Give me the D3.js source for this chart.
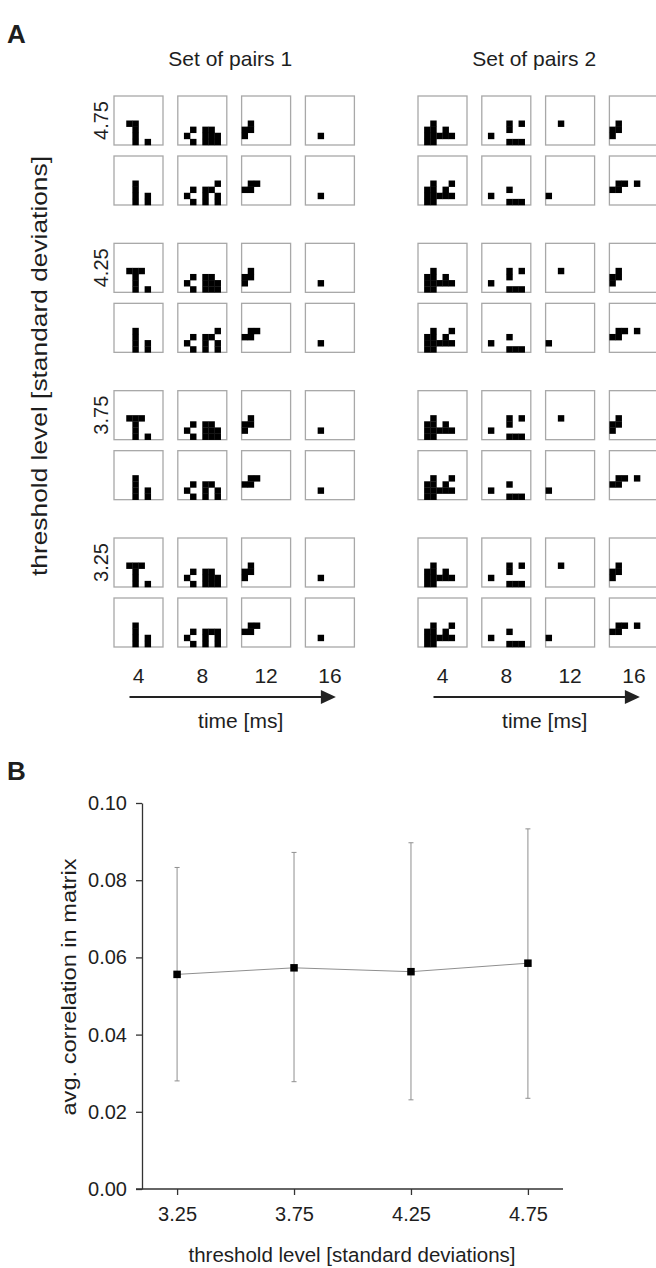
<!DOCTYPE html>
<html>
<head>
<meta charset="utf-8">
<script src="https://cdn.jsdelivr.net/npm/d3@7"></script>
<style>
body { margin: 0; background: #fff; }
text { font-family: "Liberation Sans", Arial, sans-serif; fill: #1e1e1e; }
</style>
</head>
<body>
<div class="canvas"></div>
<script>
// ---- panel A data ----
const thresholds = ["4.75", "4.25", "3.75", "3.25"];
const lags = [4, 8, 12, 16];
const setNames = ["Set of pairs 1", "Set of pairs 2"];

// active cells of each 8x8 matrix, written "rc" (row, col), one string per lag
const set1Upper = [
  ["42 43 53 63 73 75", "61 52 72 54 55 64 65 66 74 75 76", "41 51 50 60", "62"],
  ["42 43 44 53 63 73 75", "61 52 72 54 55 64 65 66 74 75 76", "41 51 50 60", "62"],
  ["42 43 44 53 63 73 75", "61 52 72 54 55 64 65 66 74 75 76", "41 51 50 60", "62"],
  ["42 43 44 53 63 73 75", "61 52 72 54 55 64 65 66 74 75 76", "41 51 50 60", "62"]
];
const set1Lower = [
  ["43 53 63 73 65 75", "61 52 72 46 54 55 64 66 74 76", "41 42 50 51", "62"],
  ["43 53 63 73 65 75", "61 52 72 46 54 55 64 66 74 76", "41 42 50 51", "62"],
  ["43 53 63 73 65 75", "61 52 72 54 55 64 66 74 76", "41 42 50 51", "62"],
  ["43 53 63 73 65 75", "61 52 72 54 55 56 64 66 74 76", "41 42 50 51", "62"]
];
const set2Upper = [
  ["42 51 52 54 61 62 63 64 65 71 72", "61 44 54 46 74 75 76", "42", "41 51 50 60"],
  ["42 51 52 54 61 62 63 64 65 71 72", "61 44 54 46 74 75 76", "42", "41 51 50 60"],
  ["42 51 52 54 61 62 63 64 65 71 72", "61 44 54 46 74 75 76", "42", "41 51 50 60"],
  ["42 51 52 54 61 62 63 64 65 71 72", "61 44 54 46 74 75 76", "42", "41 51 50 60"]
];
const set2Lower = [
  ["42 45 51 52 54 61 62 63 64 65 71 72", "61 54 74 75 76", "60", "41 42 50 51 44"],
  ["42 45 51 52 54 61 62 63 64 65 71 72", "61 54 74 75 76", "60", "41 42 50 51 44"],
  ["42 45 51 52 54 61 62 63 64 65 71 72", "61 54 74 75 76", "60", "41 42 50 51 44"],
  ["42 45 51 52 54 61 62 63 64 65 71 72", "61 54 74 75 76", "60", "41 42 50 51 44"]
];

// ---- panel B data ----
const levels = [3.25, 3.75, 4.25, 4.75];
const meanCorr = [0.0556, 0.0573, 0.0563, 0.0585];
const upperCorr = [0.0833, 0.0872, 0.0897, 0.0933];
const lowerCorr = [0.0280, 0.0278, 0.0231, 0.0235];
const corrTicks = [0, 0.02, 0.04, 0.06, 0.08, 0.10];

const W = 656, H = 1268;
const svg = d3.select('.canvas').append('svg')
  .attr('width', W).attr('height', H);
svg.append('rect').attr('width', W).attr('height', H).attr('fill', '#fff');

// ================= panel A =================
const boxSize = 49;
const setLeft = [114, 418];
const lagX = d3.scalePoint().domain(lags).range([0, 191.4]);
const groupY = d3.scalePoint().domain(thresholds).range([96, 538]);
const rowGap = 60;
const cell = d3.scaleBand().domain(d3.range(8)).range([0, boxSize]);

const sets = [[set1Upper, set1Lower], [set2Upper, set2Lower]];

svg.append('text').text('A')
  .attr('x', 7).attr('y', 43)
  .attr('font-size', 26).attr('font-weight', 'bold');

sets.forEach((rows, s) => {
  const gSet = svg.append('g').attr('transform', `translate(${setLeft[s]},0)`);

  gSet.append('text').text(setNames[s])
    .attr('x', lagX(16) / 2 + boxSize / 2 - 4).attr('y', 66)
    .attr('text-anchor', 'middle').attr('font-size', 21);

  thresholds.forEach((th, t) => {
    rows.forEach((pattern, r) => {
      lags.forEach((lag, k) => {
        const g = gSet.append('g')
          .attr('transform', `translate(${lagX(lag)},${groupY(th) + r * rowGap})`);
        g.append('rect')
          .attr('width', boxSize).attr('height', boxSize)
          .attr('fill', '#fff').attr('stroke', '#a8a8a8').attr('stroke-width', 1.3);
        const cells = pattern[t][k].split(' ').map(c => [+c[0], +c[1]]);
        g.selectAll('rect.px').data(cells).enter().append('rect')
          .attr('class', 'px')
          .attr('x', d => cell(d[1])).attr('y', d => cell(d[0]))
          .attr('width', cell.bandwidth() + 0.3).attr('height', cell.bandwidth() + 0.3)
          .attr('fill', '#000');
      });
    });
  });

  // lag tick labels
  gSet.selectAll('text.lag').data(lags).enter().append('text')
    .attr('class', 'lag')
    .attr('x', d => lagX(d) + boxSize / 2)
    .attr('y', 683)
    .attr('text-anchor', 'middle').attr('font-size', 21)
    .text(d => d);

  // time arrow
  const ax0 = lagX(4) + boxSize / 2 - 9, ax1 = lagX(16) + boxSize / 2 + 6;
  gSet.append('line')
    .attr('x1', ax0).attr('x2', ax1 - 12)
    .attr('y1', 697).attr('y2', 697)
    .attr('stroke', '#222').attr('stroke-width', 2);
  gSet.append('path')
    .attr('d', `M${ax1},697 L${ax1 - 15},690 L${ax1 - 15},704 Z`)
    .attr('fill', '#222');
  gSet.append('text').text('time [ms]')
    .attr('x', (ax0 + ax1) / 2 + 8).attr('y', 728)
    .attr('text-anchor', 'middle').attr('font-size', 21);
});

// threshold labels (rotated)
svg.selectAll('text.thr').data(thresholds).enter().append('text')
  .attr('class', 'thr')
  .attr('transform', d => `translate(108,${groupY(d) + boxSize / 2}) rotate(-90)`)
  .attr('text-anchor', 'middle').attr('font-size', 20)
  .text(d => d);

svg.append('text').text('threshold level [standard deviations]')
  .attr('transform', `translate(47,366) rotate(-90)`)
  .attr('text-anchor', 'middle').attr('font-size', 22)
  .attr('textLength', 420).attr('lengthAdjust', 'spacingAndGlyphs');

// ================= panel B =================
svg.append('text').text('B')
  .attr('x', 7).attr('y', 780)
  .attr('font-size', 26).attr('font-weight', 'bold');

const x = d3.scaleLinear().domain([3.1, 4.9]).range([142, 563]);
const y = d3.scaleLinear().domain([0, 0.1]).range([1189, 803]);

const yAxis = d3.axisLeft(y).tickValues(corrTicks).tickFormat(d3.format('.2f'))
  .tickSize(6).tickSizeOuter(0).tickPadding(9);
const xAxis = d3.axisBottom(x).tickValues(levels).tickFormat(d3.format('.2f'))
  .tickSize(6).tickSizeOuter(0).tickPadding(12);

const yG = svg.append('g').attr('transform', `translate(${x.range()[0]},0)`).call(yAxis);
const xG = svg.append('g').attr('transform', `translate(0,${y(0)})`).call(xAxis);
xG.select('.domain').attr('d', `M${x.range()[0] - 6},0H${x.range()[1]}`);
[yG, xG].forEach(g => {
  g.select('.domain').attr('stroke', '#333').attr('stroke-width', 1.3);
  g.selectAll('.tick line').attr('stroke', '#333').attr('stroke-width', 1.3);
  g.selectAll('.tick text').attr('font-size', 20)
    .attr('font-family', '"Liberation Sans", Arial, sans-serif').attr('fill', '#1e1e1e');
});

svg.append('text').text('avg. correlation in matrix')
  .attr('transform', `translate(76,987) rotate(-90)`)
  .attr('text-anchor', 'middle').attr('font-size', 21)
  .attr('textLength', 257).attr('lengthAdjust', 'spacingAndGlyphs');
svg.append('text').text('threshold level [standard deviations]')
  .attr('x', 352).attr('y', 1262)
  .attr('text-anchor', 'middle').attr('font-size', 20.5);

const pts = levels.map((l, i) => ({l, m: meanCorr[i], hi: upperCorr[i], lo: lowerCorr[i]}));

const eb = svg.append('g').attr('stroke', '#8f8f8f').attr('stroke-width', 1);
eb.selectAll('line.bar').data(pts).enter().append('line')
  .attr('x1', d => x(d.l)).attr('x2', d => x(d.l))
  .attr('y1', d => y(d.lo)).attr('y2', d => y(d.hi));
eb.selectAll('line.capHi').data(pts).enter().append('line')
  .attr('x1', d => x(d.l) - 2.5).attr('x2', d => x(d.l) + 2.5)
  .attr('y1', d => y(d.hi)).attr('y2', d => y(d.hi));
eb.selectAll('line.capLo').data(pts).enter().append('line')
  .attr('x1', d => x(d.l) - 2.5).attr('x2', d => x(d.l) + 2.5)
  .attr('y1', d => y(d.lo)).attr('y2', d => y(d.lo));

svg.append('path').datum(pts)
  .attr('d', d3.line().x(d => x(d.l)).y(d => y(d.m)))
  .attr('fill', 'none').attr('stroke', '#8f8f8f').attr('stroke-width', 1);

svg.selectAll('rect.mk').data(pts).enter().append('rect')
  .attr('class', 'mk')
  .attr('x', d => x(d.l) - 3.75).attr('y', d => y(d.m) - 3.75)
  .attr('width', 7.5).attr('height', 7.5)
  .attr('fill', '#000');
</script>
</body>
</html>
